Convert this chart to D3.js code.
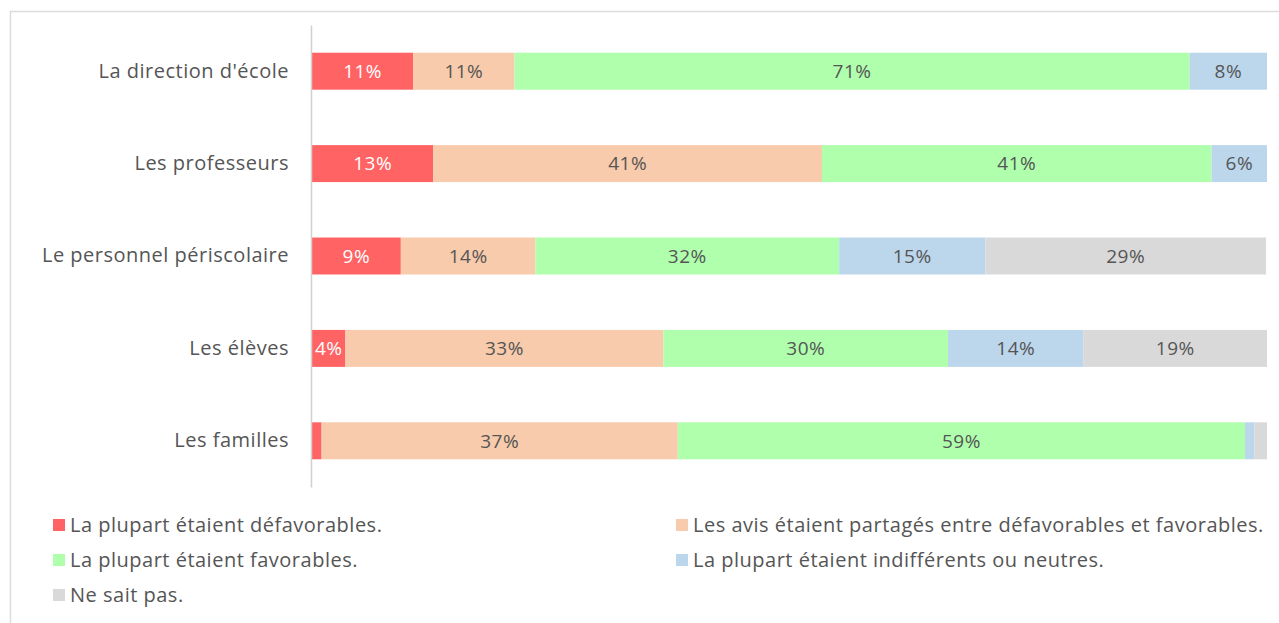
<!DOCTYPE html>
<html><head><meta charset="utf-8">
<script src="https://cdn.jsdelivr.net/npm/d3@7"></script>
<style>
body{margin:0;background:#fff;}
svg{display:block;font-family:"Open Sans","Noto Sans",sans-serif;}
text{letter-spacing:0.5px;}
</style></head>
<body><svg id="c" width="1279" height="623"></svg>
<script>
const categories = ["La direction d'école","Les professeurs","Le personnel périscolaire","Les élèves","Les familles"];
const seriesNames = ["La plupart étaient défavorables.","Les avis étaient partagés entre défavorables et favorables.","La plupart étaient favorables.","La plupart étaient indifférents ou neutres.","Ne sait pas."];
const seriesColors = ["#ff6363","#f7cbab","#afffad","#bcd6ec","#d9d9d9"];
const defavorables = [10.6, 12.7, 9.3, 3.5, 1.0];
const partages     = [10.6, 40.7, 14.1, 33.3, 37.3];
const favorables   = [70.7, 40.8, 31.8, 29.8, 59.4];
const neutres      = [8.1, 5.8, 15.3, 14.2, 1.0];
const nsp          = [0, 0, 29.4, 19.2, 1.3];
const seriesValues = [defavorables, partages, favorables, neutres, nsp];
const labelColors = ["#ffffff","#555555","#555555","#555555","#555555"];

const svg = d3.select("#c");
svg.append("path").attr("d","M10.5,623 V11.5 H1279").attr("fill","none").attr("stroke","#dcdcdc").attr("stroke-width",1.5);

const x = d3.scaleLinear().domain([0,100]).range([312,1267]);
const y = d3.scaleBand().domain(categories).range([25,487]).paddingInner(0.6).paddingOuter(0.3);

const rows = categories.map((c,i)=>{
  let acc=0;
  return seriesValues.map((s,j)=>{const v=s[i]; const r={cat:c,j,x0:acc,x1:acc+v,v}; acc+=v; return r;});
});

const g = svg.append("g");
rows.forEach(r=>{
  r.forEach(d=>{
    if(d.v<=0) return;
    g.append("rect").attr("x",x(d.x0)).attr("y",y(d.cat)).attr("width",x(d.x1)-x(d.x0)).attr("height",y.bandwidth()).attr("fill",seriesColors[d.j]);
    if(d.v>=3){
      g.append("text").attr("x",(x(d.x0)+x(d.x1))/2).attr("y",y(d.cat)+y.bandwidth()/2).attr("dy","0.36em")
       .attr("text-anchor","middle").attr("font-size",19).attr("fill",labelColors[d.j]).text(Math.round(d.v)+"%");
    }
  });
});

const ax = svg.append("g").attr("transform","translate(311,0)").call(d3.axisLeft(y).tickSize(0).tickPadding(22));
ax.select(".domain").attr("stroke","#d0d0d0").attr("stroke-width",1.5);
ax.selectAll("text").attr("font-size",20).attr("fill","#555").attr("font-family","'Open Sans','Noto Sans',sans-serif");

const legPos = [[53,525],[676,525],[53,560],[676,560],[53,595]];
seriesNames.forEach((n,i)=>{
  const [lx,ly]=legPos[i];
  svg.append("rect").attr("x",lx).attr("y",ly-6).attr("width",12).attr("height",12).attr("fill",seriesColors[i]);
  svg.append("text").attr("x",lx+17).attr("y",ly).attr("dy","0.35em").attr("font-size",20).attr("fill","#555").text(n);
});
</script></body></html>
